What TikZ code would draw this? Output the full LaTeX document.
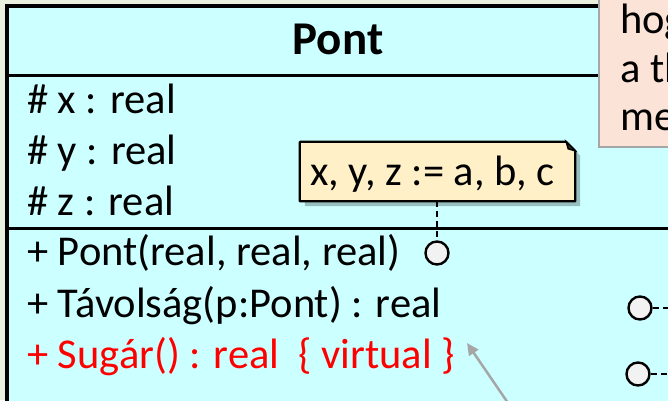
\documentclass[tikz,border=0pt]{standalone}
\usepackage{fontspec}
\setmainfont{Carlito}
\usetikzlibrary{arrows.meta, positioning, calc}
\definecolor{bgGreen}{HTML}{E9F1DE}
\definecolor{umlCyan}{HTML}{CCFFFF}
\definecolor{noteYellow}{HTML}{FFF0C8}
\definecolor{notePink}{HTML}{FBE3D7}
\definecolor{portGray}{HTML}{F2F2F2}
\definecolor{arrowGray}{HTML}{A6A6A6}

\begin{document}
\begin{tikzpicture}[x=1pt, y=-1pt,
  member/.style={anchor=base west, inner sep=0pt, font=\fontsize{42.5}{50}\selectfont},
  port/.style={circle, draw, line width=2.4pt, fill=portGray, minimum size=23pt, inner sep=0pt},
  link/.style={line width=2pt, dash pattern=on 6pt off 4pt}
]
  \useasboundingbox (0,0) rectangle (668,400);
  \clip (0,0) rectangle (668,400);
  \fill[bgGreen] (0,0) rectangle (668,400);

  % Class box
  \draw[line width=4pt, fill=umlCyan] (7,6) rectangle (720,430);
  \draw[line width=3pt] (7,75) -- (720,75);
  \draw[line width=3pt] (7,228) -- (720,228);
  \node[font=\fontsize{47}{54}\selectfont\bfseries, anchor=base] (title) at (338,54) {Pont};

  % Attributes
  \node[member] (attrX) at (27,113) {\# x : real};
  \node[member] (attrY) at (27,164) {\# y : real};
  \node[member] (attrZ) at (27,215) {\# z : real};

  % Operations
  \node[member] (opCtor) at (27,265) {+ Pont(real, real, real)};
  \node[member] (opDist) at (27,317) {+ Távolság(p:Pont) : real};
  \node[member, text=red] (opRad) at (27,368) {+ Sugár() : real\ \ \{ virtual \}};

  % Pink note (top right)
  \draw[line width=2.5pt, draw=arrowGray, fill=notePink] (599,-10) rectangle (720,147);
  \node[member] (pinkA) at (620,33) {hog};
  \node[member] (pinkB) at (620,82) {a th};
  \node[member] (pinkC) at (620,130) {me};

  % Yellow note with folded corner
  \node[minimum width=275pt, minimum height=59pt, inner sep=0pt] (init) at (437.5,171.5) {};
  \fill[black, opacity=0.25]
    ($(init.south west)+(5,5)$) -- ($(init.south east)+(5,5)$)
    -- ($(init.north east)+(5,14)$) -- ($(init.north east)+(-4,5)$)
    -- ($(init.north west)+(5,5)$) -- cycle;
  \draw[line width=2.2pt, fill=noteYellow, line join=round]
    (init.south west) -- (init.south east) -- ($(init.north east)+(0,9)$)
    -- ($(init.north east)+(-9,0)$) -- (init.north west) -- cycle;
  \draw[line width=1.5pt, fill=black!80]
    ($(init.north east)+(-9,0)$) -- ($(init.north east)+(-7,7)$) -- ($(init.north east)+(0,9)$) -- cycle;
  \node[member] (initText) at (310,185) {x, y, z := a, b, c};

  % Ports and links
  \node[port] (pCtor) at (437,253) {};
  \node[port] (pDist) at (640,308) {};
  \node[port] (pRad) at (638,374) {};
  \coordinate (eDist) at (672,308);
  \coordinate (eRad) at (672,374);
  \draw[link] (init.south -| pCtor) -- (pCtor.north);
  \draw[link] (pDist.east) -- (eDist);
  \draw[link] (pRad.east) -- (eRad);

  % Arrow to virtual
  \coordinate (arrowTail) at (508,403);
  \coordinate (arrowTip) at (467,343);
  \draw[arrowGray, line width=2.5pt, -{Triangle[length=12pt, width=11pt]}] (arrowTail) -- (arrowTip);
\end{tikzpicture}
\end{document}
